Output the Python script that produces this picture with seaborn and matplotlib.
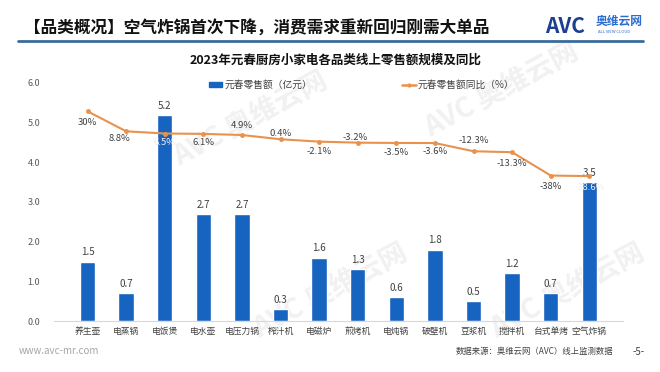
import matplotlib
matplotlib.use("Agg")
import matplotlib.pyplot as plt
import seaborn as sns
from matplotlib.lines import Line2D
from matplotlib.patches import Patch

categories = ["养生壶", "电蒸锅", "电饭煲", "电水壶", "电压力锅", "榨汁机", "电磁炉",
              "煎烤机", "电炖锅", "破壁机", "豆浆机", "搅拌机", "台式单烤", "空气炸锅"]
sales = [1.5, 0.7, 5.2, 2.7, 2.7, 0.3, 1.6, 1.3, 0.6, 1.8, 0.5, 1.2, 0.7, 3.5]
yoy = [30, 8.8, 6.5, 6.1, 4.9, 0.4, -2.1, -3.2, -3.5, -3.6, -12.3, -13.3, -38, -38.6]
yoy_labels = ["30%", "8.8%", "6.5%", "6.1%", "4.9%", "0.4%", "-2.1%", "-3.2%",
              "-3.5%", "-3.6%", "-12.3%", "-13.3%", "-38%", "-38.6%"]
yticks = [0.0, 1.0, 2.0, 3.0, 4.0, 5.0, 6.0]

BAR = "#1763c0"
LINE = "#e8924e"

sns.set_style("white")
plt.rcParams["font.family"] = ["Noto Sans CJK SC", "DejaVu Sans"]

fig = plt.figure(figsize=(6.6, 3.72), dpi=100)
ax = fig.add_axes([0.0818, 0.137, 0.862, 0.640])

# faint watermarks behind everything
for wx, wy in [(0.38, 0.68), (0.76, 0.76), (0.50, 0.22), (0.86, 0.22)]:
    fig.text(wx, wy, "AVC 奥维云网", fontsize=20, color="#f1f1f1", rotation=28,
             ha="center", va="center", fontweight="bold", style="italic", zorder=-1)

sns.barplot(x=categories, y=sales, ax=ax, color=BAR, width=0.4, saturation=1, zorder=2)
ax.set_ylim(0, 6)
ax.set_yticks(yticks)
ax.set_yticklabels([f"{t:.1f}" for t in yticks], fontsize=6.5, color="#595959")
ax.tick_params(axis="x", labelsize=6.3, labelcolor="#404040", length=0, pad=4)
ax.tick_params(axis="y", length=0, pad=10)
for s in ["top", "right", "left"]:
    ax.spines[s].set_visible(False)
ax.spines["bottom"].set_color("#d9d9d9")
ax.set_xlabel("")
ax.set_ylabel("")
ax.patch.set_alpha(0)

for i, v in enumerate(sales):
    ax.annotate(f"{v:.1f}", (i, v), xytext=(0, 3), textcoords="offset points",
                ha="center", va="bottom", fontsize=7, color="#404040")

ax2 = ax.twinx()
ax2.plot(range(len(yoy)), yoy, color=LINE, lw=1.5, marker="o", ms=2.5, zorder=3)
ax2.set_ylim(-192, 60)
ax2.set_yticks([])
for s in ax2.spines.values():
    s.set_visible(False)

# label offsets in points (dx, dy)
offs = [(0, -8), (-5, -5), (0, -6.5), (0, -6.5), (0, 7), (0, 4.5), (0, -7),
        (-2, 3.5), (0, -7), (0, -6), (0, 8), (0, -8), (0, -8), (0, -8)]
for i, (v, lab) in enumerate(zip(yoy, yoy_labels)):
    dx, dy = offs[i]
    col = "#f0f0f0" if i in (2, 13) else "#404040"
    ax2.annotate(lab, (i, v), xytext=(dx, dy), textcoords="offset points",
                 ha="center", va="center", fontsize=6.8, color=col)

handles = [Patch(color=BAR), Line2D([0], [0], color=LINE, lw=1.8, marker="o", ms=2)]
fig.legend(handles, ["元春零售额（亿元）", "元春零售额同比（%）"], ncol=2,
           loc="center", bbox_to_anchor=(0.548, 0.771), frameon=False, fontsize=7,
           handlelength=1.4, handleheight=0.4, handletextpad=0.2, columnspacing=9.3,
           labelcolor="#404040")

# header
fig.text(0.036, 0.925, "【品类概况】空气炸锅首次下降，消费需求重新回归刚需大单品",
         fontsize=12, fontweight="bold", color="#111111", va="center")
fig.add_artist(Line2D([0.027, 0.974], [0.889, 0.889], color="#3a6b9b", lw=2))
fig.text(0.508, 0.838, "2023年元春厨房小家电各品类线上零售额规模及同比",
         fontsize=9, fontweight="bold", color="#111111", ha="center", va="center")
fig.text(0.826, 0.93, "AVC", fontsize=15, fontweight="bold", style="italic",
         color="#1d3f91", va="center")
fig.text(0.902, 0.942, "奥维云网", fontsize=8.5, fontweight="bold", color="#2b6cd0", va="center")
fig.text(0.906, 0.915, "ALL VIEW CLOUD", fontsize=3, color="#2b6cd0", va="center")

# footer
fig.text(0.029, 0.056, "www.avc-mr.com", fontsize=7, color="#a6a6a6", va="center")
fig.text(0.929, 0.054, "数据来源：奥维云网（AVC）线上监测数据", fontsize=6, color="#404040",
         ha="right", va="center")
fig.text(0.958, 0.054, "-5-", fontsize=7, color="#404040", va="center")

fig.savefig("out.png", dpi=100)
